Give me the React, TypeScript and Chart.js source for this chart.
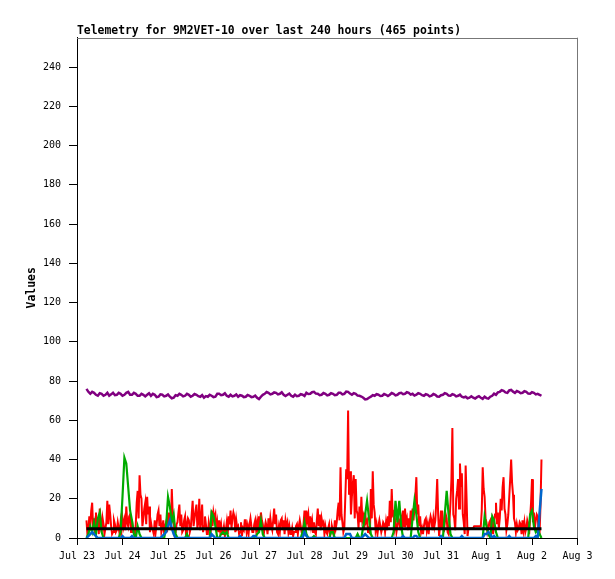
import React, { useEffect, useRef } from 'react';
import { Chart, registerables } from 'chart.js';

Chart.register(...registerables);

// x axis: hours since Jul 23 00:00, one label per day
const DAY_LABELS = ['Jul 23', 'Jul 24', 'Jul 25', 'Jul 26', 'Jul 27', 'Jul 28', 'Jul 29', 'Jul 30', 'Jul 31', 'Aug 1', 'Aug 2', 'Aug 3'];
const START_HOUR = 5;
const RED_STEP_HOURS = 0.5;
const STEP_HOURS = 1;

const RED = [
    9, 2, 4, 11, 6, 14, 18, 5, 10, 3, 13, 6, 8, 2, 15, 9, 3, 10, 7, 2,
    5, 8, 19, 7, 17, 12, 6, 2, 3, 9, 7, 3, 4, 8, 5, 2, 8, 4, 10, 6,
    9, 4, 16, 8, 6, 11, 12, 3, 9, 5, 3, 1, 7, 18, 24, 10, 32, 22, 20, 6,
    10, 15, 18, 7, 21, 12, 16, 3, 8, 5, 4, 2, 9, 3, 7, 12, 14, 6, 12, 3,
    5, 9, 2, 6, 8, 3, 13, 7, 10, 4, 25, 12, 9, 2, 3, 7, 8, 13, 17, 6,
    12, 3, 4, 9, 11, 2, 7, 10, 9, 3, 5, 12, 19, 6, 10, 14, 17, 5, 8, 20,
    4, 9, 17, 3, 6, 11, 7, 2, 2, 8, 5, 3, 14, 6, 13, 10, 12, 4, 8, 3,
    9, 4, 7, 2, 3, 6, 1, 4, 8, 2, 11, 7, 14, 5, 10, 13, 11, 3, 9, 5,
    6, 2, 3, 8, 1, 5, 4, 9, 9, 3, 6, 2, 7, 10, 6, 3, 3, 7, 9, 4,
    8, 3, 11, 6, 13, 9, 7, 2, 5, 8, 6, 2, 10, 4, 10, 6, 4, 9, 15, 7,
    12, 3, 2, 6, 3, 9, 10, 4, 9, 2, 9, 6, 8, 3, 6, 2, 2, 5, 1, 3,
    3, 6, 7, 2, 6, 9, 6, 3, 3, 7, 14, 5, 14, 9, 12, 4, 11, 6, 9, 3,
    8, 3, 2, 9, 15, 6, 12, 4, 10, 7, 8, 2, 6, 3, 2, 5, 7, 1, 4, 6,
    4, 1, 9, 5, 8, 14, 18, 9, 36, 12, 8, 3, 5, 20, 35, 30, 65, 22, 34, 12,
    21, 28, 32, 10, 30, 14, 12, 5, 16, 8, 21, 9, 11, 4, 13, 8, 9, 3, 6, 2,
    25, 10, 34, 17, 13, 4, 7, 2, 6, 9, 6, 3, 5, 8, 7, 3, 8, 4, 11, 6,
    19, 8, 25, 12, 13, 5, 8, 3, 6, 10, 9, 4, 10, 7, 14, 6, 15, 8, 10, 4,
    10, 5, 14, 7, 15, 9, 15, 22, 31, 12, 17, 6, 11, 3, 5, 2, 6, 9, 10, 4,
    7, 2, 8, 11, 9, 4, 10, 6, 9, 18, 30, 12, 1, 6, 14, 5, 9, 3, 8, 12,
    10, 3, 2, 9, 18, 30, 56, 12, 10, 4, 20, 24, 30, 15, 38, 26, 33, 12, 8, 2,
    37, 20, 1, 5, 5, 5, 5, 5, 5, 6, 6, 6, 6, 6, 6, 6, 6, 14, 36, 25,
    21, 10, 8, 3, 5, 8, 9, 4, 8, 2, 9, 12, 18, 7, 13, 5, 10, 20, 14, 26,
    31, 15, 12, 4, 7, 12, 21, 30, 40, 28, 22, 10, 8, 3, 7, 4, 5, 8, 7, 2,
    9, 4, 8, 3, 5, 9, 7, 2, 10, 18, 30, 8, 13, 5, 9, 12, 11, 4, 3, 17,
    40
];

const GREEN = [
    0, 2, 6, 3, 8, 2, 10, 13, 3, 0,
    0, 0, 0, 0, 0, 0, 0, 0, 3, 21,
    41, 38, 26, 14, 9, 2, 0, 6, 2, 0,
    0, 0, 0, 0, 0, 0, 0, 0, 0, 0,
    0, 0, 6, 21, 16, 8, 12, 2, 0, 0,
    0, 0, 0, 2, 0, 0, 0, 0, 0, 0,
    0, 0, 0, 0, 0, 0, 13, 11, 6, 0,
    0, 2, 3, 2, 3, 0, 0, 0, 0, 0,
    0, 0, 0, 0, 0, 0, 0, 0, 0, 0,
    2, 3, 9, 2, 0, 0, 0, 0, 0, 0,
    0, 0, 0, 0, 0, 0, 0, 0, 0, 0,
    0, 0, 0, 0, 3, 8, 2, 0, 0, 0,
    1, 0, 0, 0, 0, 0, 0, 0, 0, 3,
    3, 0, 0, 0, 0, 0, 0, 0, 0, 0,
    0, 0, 0, 2, 0, 0, 6, 12, 19, 10,
    2, 0, 0, 0, 0, 0, 0, 0, 0, 0,
    0, 0, 3, 19, 8, 19, 6, 0, 0, 0,
    0, 0, 10, 19, 12, 3, 0, 0, 0, 0,
    0, 0, 0, 0, 0, 0, 0, 0, 0, 12,
    24, 12, 2, 0, 0, 0, 0, 0, 0, 0,
    0, 0, 0, 0, 0, 0, 0, 0, 0, 0,
    11, 6, 2, 0, 11, 9, 3, 0, 0, 0,
    0, 0, 0, 0, 0, 0, 0, 0, 0, 0,
    0, 0, 0, 0, 12, 14, 6, 3, 4, 2,
    0
];

const BLUE = [
    0, 1, 2, 3, 2, 1, 0, 0, 0, 0,
    0, 0, 0, 0, 0, 0, 0, 0, 0, 1,
    0, 0, 0, 0, 1, 0, 0, 0, 0, 0,
    0, 0, 0, 0, 0, 0, 0, 0, 0, 0,
    1, 2, 3, 6, 9, 5, 2, 0, 0, 0,
    0, 0, 0, 0, 0, 0, 0, 0, 0, 0,
    0, 0, 0, 0, 0, 0, 2, 1, 0, 0,
    0, 0, 0, 0, 0, 0, 0, 0, 0, 0,
    0, 1, 0, 0, 0, 0, 0, 0, 1, 1,
    0, 0, 0, 0, 0, 0, 0, 0, 0, 0,
    0, 0, 0, 0, 0, 0, 0, 0, 0, 0,
    0, 0, 0, 0, 0, 3, 1, 0, 0, 0,
    0, 0, 0, 0, 0, 0, 0, 0, 0, 0,
    0, 0, 0, 0, 0, 0, 0, 2, 2, 2,
    0, 0, 0, 0, 0, 0, 1, 2, 1, 0,
    0, 0, 0, 0, 0, 0, 0, 0, 0, 0,
    0, 0, 0, 0, 0, 0, 0, 1, 0, 0,
    0, 0, 0, 1, 1, 0, 0, 0, 0, 0,
    0, 0, 0, 0, 0, 0, 0, 1, 0, 0,
    0, 0, 0, 0, 0, 0, 0, 0, 1, 0,
    0, 0, 0, 0, 0, 0, 0, 0, 0, 0,
    2, 2, 3, 2, 0, 1, 0, 0, 0, 0,
    0, 0, 0, 1, 0, 0, 0, 0, 0, 0,
    0, 0, 0, 0, 0, 0, 0, 1, 0, 13,
    25
];

const PURPLE = [
    76, 74.5, 73.5, 74.5, 74, 73, 72.5, 73.8, 73.5, 72.5, 73, 74, 72.5, 73.2, 74, 72.8, 73, 74, 73.5, 72.5,
    73, 74, 74.5, 73, 73, 74, 73.5, 72.5, 72.5, 73.5, 73, 72.2, 73, 73.8, 72.5, 73.5, 73, 71.8, 72, 73.2,
    73, 72.2, 72.5, 73.2, 72, 71.2, 71.5, 72.8, 72.5, 73.5, 73, 72.2, 72.5, 73.5, 73, 72, 72.5, 73.4, 73, 72.3,
    72, 72.8, 71.5, 72.3, 72, 73, 72.5, 71.8, 72, 73.5, 73.5, 72.8, 73, 73.8, 72.5, 72, 73, 72.2, 72.5, 73.2,
    72, 72.8, 72.5, 71.8, 72, 72.9, 72.5, 71.8, 72, 72.6, 71.5, 70.8, 72, 73, 73.5, 74.4, 74, 73.2, 73.5, 74.2,
    74, 73.2, 73.5, 74.3, 73, 72.4, 73, 73.6, 72.5, 72, 73, 72.3, 72.5, 73.3, 73, 72.4, 74, 73.4, 73.5, 74.3,
    74.5, 73.6, 73.5, 72.8, 73, 73.9, 73.5, 72.7, 73, 73.8, 73.5, 72.8, 73, 74, 74, 73.2, 73.5, 74.6, 74.5, 73.6,
    73, 73.8, 73.5, 72.6, 72.5, 72.1, 71.5, 70.6, 70.8, 71.5, 72, 72.8, 72.5, 73.3, 73, 72.4, 72.5, 73.4, 73, 72.4,
    73, 73.9, 73.5, 72.7, 73, 73.8, 74, 73.3, 73.5, 74.3, 74, 73.1, 73.5, 72.6, 73, 73.8, 73.5, 72.8, 72.5, 73.3,
    73, 72.2, 72.5, 73.4, 73, 72.1, 72, 72.8, 73, 73.8, 73.5, 72.6, 72.5, 73.3, 73, 72.2, 72.5, 73.1, 72, 71.6,
    72, 71.2, 71.5, 72.2, 71.5, 71.1, 71.8, 72.3, 71.5, 70.9, 72, 71.3, 71, 72, 72.5, 73.6, 73, 74.2, 74.5, 75.3,
    75, 74.2, 74, 75.2, 75.5, 74.6, 74, 74.9, 74.5, 73.8, 74, 74.8, 74.5, 73.6, 73.5, 74.3, 74, 73.2, 73.5, 73,
    72.5
];

const BLACK_HOURS = [5, 245];
const BLACK = [4.7, 4.7];

const toPoints = (values: number[], start: number, step: number) =>
    values.map((v, i) => ({ x: start + i * step, y: v }));

const frameLines = {
    id: 'frameLines',
    afterDraw(chart: Chart) {
        const { ctx, chartArea } = chart;
        const { left, right, top, bottom } = chartArea;
        ctx.save();
        ctx.strokeStyle = '#777777';
        ctx.lineWidth = 1;
        ctx.beginPath();
        ctx.moveTo(left, Math.round(top) + 0.5);
        ctx.lineTo(right, Math.round(top) + 0.5);
        ctx.moveTo(Math.round(right) - 0.5, top);
        ctx.lineTo(Math.round(right) - 0.5, bottom);
        ctx.stroke();
        ctx.restore();
    }
};

const MONO = "'DejaVu Sans Mono', monospace";

export default function App() {
    const canvasRef = useRef<HTMLCanvasElement>(null);
    const chartRef = useRef<Chart | null>(null);

    useEffect(() => {
        document.body.style.margin = '0';
        if (chartRef.current) chartRef.current.destroy();
        if (!canvasRef.current) return;

        const line = (data: { x: number; y: number }[], color: string, width: number, order: number) => ({
            data,
            borderColor: color,
            backgroundColor: color,
            borderWidth: width,
            pointRadius: 0,
            tension: 0,
            order,
        });

        chartRef.current = new Chart(canvasRef.current, {
            type: 'line',
            data: {
                datasets: [
                    line(BLACK_HOURS.map((h, i) => ({ x: h, y: BLACK[i] })), '#000000', 3, 0),
                    line(toPoints(BLUE, START_HOUR, STEP_HOURS), '#0066cc', 2.5, 1),
                    line(toPoints(GREEN, START_HOUR, STEP_HOURS), '#00aa00', 2.2, 2),
                    line(toPoints(RED, START_HOUR, RED_STEP_HOURS), '#ff0000', 2, 3),
                    line(toPoints(PURPLE, START_HOUR, STEP_HOURS), '#800080', 2.5, 4),
                ]
            },
            options: {
                responsive: false,
                animation: false,
                events: [],
                layout: { padding: { left: 0, right: 37.5, top: 0, bottom: 0 } },
                plugins: {
                    legend: { display: false },
                    tooltip: { enabled: false },
                    title: {
                        display: true,
                        text: 'Telemetry for 9M2VET-10 over last 240 hours (465 points)',
                        align: 'start',
                        fullSize: false,
                        color: '#000',
                        font: { family: MONO, size: 11.4, weight: 'bold' },
                        padding: { top: 24, bottom: 0 },
                    }
                },
                scales: {
                    x: {
                        type: 'linear',
                        min: 0,
                        max: 264,
                        afterFit: (scale: any) => { scale.height = 41; },
                        border: { display: true, color: '#000', width: 1 },
                        grid: { drawOnChartArea: false, drawTicks: true, tickLength: 7, tickColor: '#000' },
                        ticks: {
                            stepSize: 24,
                            autoSkip: false,
                            maxRotation: 0,
                            padding: 5,
                            color: '#000',
                            font: { family: MONO, size: 10 },
                            callback: (v: any) => DAY_LABELS[Math.round(Number(v) / 24)] ?? '',
                        }
                    },
                    y: {
                        min: 0,
                        max: 255,
                        afterFit: (scale: any) => { scale.width = 77; },
                        border: { display: true, color: '#000', width: 1 },
                        grid: { drawOnChartArea: false, drawTicks: true, tickLength: 8, tickColor: '#000' },
                        title: {
                            display: true,
                            text: 'Values',
                            color: '#000',
                            font: { family: MONO, size: 11.4, weight: 'bold' },
                            padding: { top: 25, bottom: 0 },
                        },
                        ticks: {
                            stepSize: 20,
                            includeBounds: false,
                            padding: 8,
                            color: '#000',
                            font: { family: MONO, size: 10 },
                        }
                    }
                }
            },
            plugins: [frameLines]
        } as any);

        return () => { if (chartRef.current) chartRef.current.destroy(); chartRef.current = null; };
    }, []);

    return (
        <div style={{ width: 615, height: 579, background: '#fff' }}>
            <canvas ref={canvasRef} width={615} height={579}></canvas>
        </div>
    );
}
